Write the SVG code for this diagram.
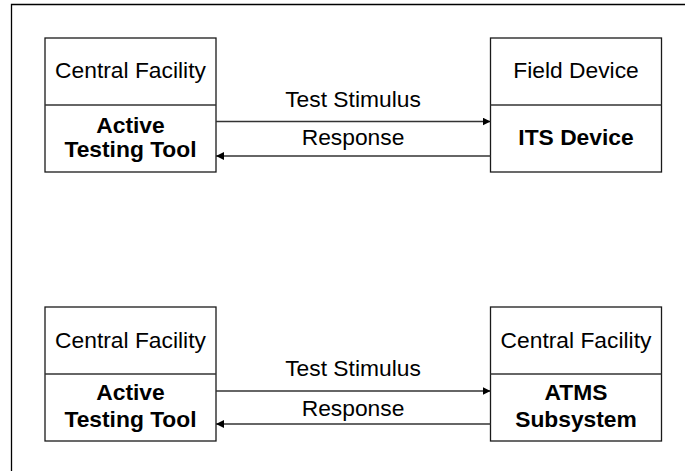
<svg xmlns="http://www.w3.org/2000/svg" width="685" height="471" viewBox="0 0 685 471">
<style>
.box{fill:#fff;stroke:#1a1a1a;stroke-width:1.3}
.div{stroke:#333;stroke-width:1.3}
.t{font-family:"Liberation Sans",Arial,sans-serif;font-size:22.8px;fill:#000;text-anchor:middle}
.b{font-weight:bold}
.c{stroke:#333;stroke-width:1.3;fill:none}
</style>
<defs>
<marker id="ah" viewBox="0 0 10 10" refX="10" refY="5" markerWidth="8" markerHeight="8" markerUnits="userSpaceOnUse" orient="auto">
<path d="M0,0 L10,5 L0,10 Z" fill="#000"/>
</marker>
</defs>
<rect width="685" height="471" fill="#fff"/>
<path d="M11.5,471 V4.5 H685" fill="none" stroke="#000" stroke-width="1.3"/>
<g id="n1">
<rect class="box" x="45" y="38" width="171" height="134"/>
<line class="div" x1="45" y1="105" x2="216" y2="105"/>
<text class="t" x="130.5" y="78">Central Facility</text>
<text class="t b" x="130.5" y="133">Active</text>
<text class="t b" x="130.5" y="157">Testing Tool</text>
</g>
<g id="n2">
<rect class="box" x="490.5" y="38" width="171" height="134"/>
<line class="div" x1="490.5" y1="105" x2="661.5" y2="105"/>
<text class="t" x="576" y="78">Field Device</text>
<text class="t b" x="576" y="145">ITS Device</text>
</g>
<g id="n3">
<rect class="box" x="45" y="307" width="171" height="134"/>
<line class="div" x1="45" y1="374" x2="216" y2="374"/>
<text class="t" x="130.5" y="347.5">Central Facility</text>
<text class="t b" x="130.5" y="399.5">Active</text>
<text class="t b" x="130.5" y="427">Testing Tool</text>
</g>
<g id="n4">
<rect class="box" x="490.5" y="307" width="171" height="134"/>
<line class="div" x1="490.5" y1="374" x2="661.5" y2="374"/>
<text class="t" x="576" y="347.5">Central Facility</text>
<text class="t b" x="576" y="399.5">ATMS</text>
<text class="t b" x="576" y="427">Subsystem</text>
</g>
<g id="connectors">
<line class="c" x1="216" y1="121.5" x2="490.5" y2="121.5" marker-end="url(#ah)"/>
<line class="c" x1="490.5" y1="156" x2="216" y2="156" marker-end="url(#ah)"/>
<line class="c" x1="216" y1="391" x2="490.5" y2="391" marker-end="url(#ah)"/>
<line class="c" x1="490.5" y1="424" x2="216" y2="424" marker-end="url(#ah)"/>
<text class="t" x="353" y="106.5">Test Stimulus</text>
<text class="t" x="353" y="145">Response</text>
<text class="t" x="353" y="375.5">Test Stimulus</text>
<text class="t" x="353" y="415.5">Response</text>
</g>
</svg>
